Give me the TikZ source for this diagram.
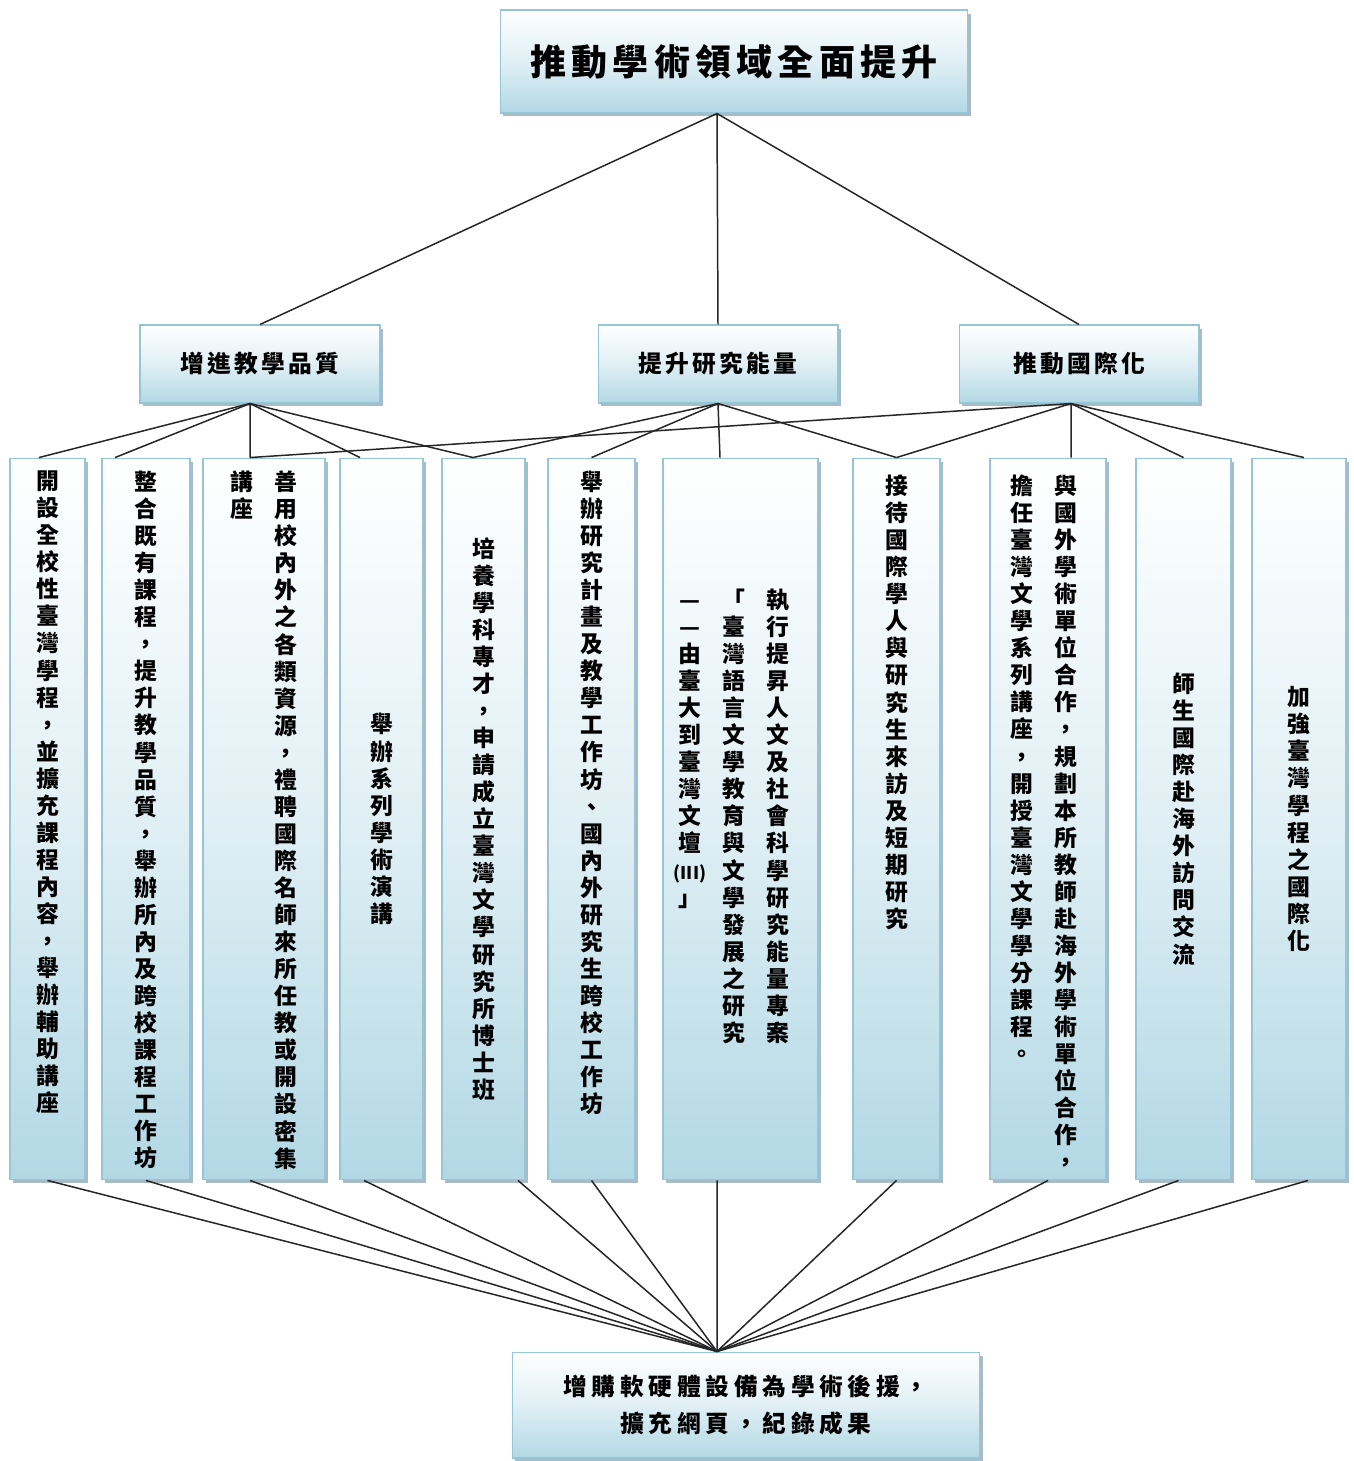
\documentclass[tikz,border=0pt]{standalone}
\usepackage{fontspec}
\setmainfont{Noto Sans CJK TC}
\usetikzlibrary{positioning, shadows}

\definecolor{boxblue}{RGB}{178,216,229}
\definecolor{boxline}{RGB}{150,197,215}
\definecolor{shadowgray}{RGB}{130,160,175}

% vertical text: one character per line, top aligned
\ExplSyntaxOn
\NewDocumentCommand\vtext{m}{\vbox_top:n{\tl_map_inline:nn{#1}{\hbox_to_wd:nn{1.05em}{\hss##1\hss}}}}
\NewDocumentCommand\htext{mm}{\tl_map_inline:nn{#2}{\hbox_to_wd:nn{#1}{\hss##1\hss}}}
\ExplSyntaxOff

\begin{document}
\begin{tikzpicture}[
    x=0.02cm, y=-0.02cm,
    box/.style={rectangle, draw=boxline, line width=0.6pt, inner sep=0pt,
        top color=white, bottom color=boxblue, middle color=boxblue!40,
        drop shadow={shadow xshift=0.06cm, shadow yshift=-0.07cm, fill=shadowgray, opacity=0.7}},
    goalbox/.style={box, minimum width=9.36cm, minimum height=2.06cm, font=\fontsize{20.5}{24}\selectfont\bfseries},
    aimbox/.style={box, minimum width=4.8cm, minimum height=1.56cm, font=\fontsize{13.5}{16}\selectfont\bfseries},
    supportbox/.style={box, minimum width=9.36cm, minimum height=2.12cm, align=center, font=\fontsize{13.5}{21}\selectfont\bfseries},
    colbox/.style={box, minimum height=14.44cm},
    coltext/.style={inner sep=0pt, font=\fontsize{13}{15.4}\selectfont\bfseries},
    link/.style={draw=black!85, line width=0.85pt},
]
\useasboundingbox (0,0) rectangle (1354,1461);

% ========== GOAL ==========
\node[goalbox] (goal) at (734, 61.5) {\htext{23.5pt}{推動學術領域全面提升}};

% ========== AIMS ==========
\node[aimbox] (teach) at (260, 364) {\raisebox{0.08cm}{\htext{15.4pt}{增進教學品質}}};
\node[aimbox] (research) at (718, 364) {\raisebox{0.08cm}{\htext{15.4pt}{提升研究能量}}};
\node[aimbox] (intl) at (1079, 364) {\raisebox{0.08cm}{\htext{15.4pt}{推動國際化}}};

\draw[link] ([xshift=-0.34cm]goal.south) -- (teach.north);
\draw[link] ([xshift=-0.34cm]goal.south) -- (research.north);
\draw[link] ([xshift=-0.34cm]goal.south) -- (intl.north);

% ========== ACTIONS ==========
\node[colbox, minimum width=1.5cm] (course_prog) at (47.5, 819) {};
\node[colbox, minimum width=1.76cm] (course_merge) at (146, 819) {};
\node[colbox, minimum width=2.44cm] (masters) at (264, 819) {};
\node[colbox, minimum width=1.66cm] (lectures) at (381.5, 819) {};
\node[colbox, minimum width=1.66cm] (phd) at (483.5, 819) {};
\node[colbox, minimum width=1.74cm] (workshop) at (591.5, 819) {};
\node[colbox, minimum width=3.1cm] (project) at (740.5, 819) {};
\node[colbox, minimum width=1.74cm] (visitors) at (896.5, 819) {};
\node[colbox, minimum width=2.32cm] (overseas_coop) at (1048, 819) {};
\node[colbox, minimum width=1.9cm] (exchange) at (1183.5, 819) {};
\node[colbox, minimum width=1.88cm] (intl_prog) at (1299, 819) {};

\node[coltext, below=0.26cm of course_prog.north] (course_prog_txt) {\vtext{開設全校性臺灣學程，並擴充課程內容，舉辦輔助講座}};
\node[coltext, below=0.26cm of course_merge.north] (course_merge_txt) {\vtext{整合既有課程，提升教學品質，舉辦所內及跨校課程工作坊}};
\node[coltext, below=0.26cm of masters.north] (masters_txt) {\vtext{講座}\hspace{0.4cm}\vtext{善用校內外之各類資源，禮聘國際名師來所任教或開設密集}};
\node[coltext] (lectures_txt) at (lectures) {\vtext{舉辦系列學術演講}};
\node[coltext] (phd_txt) at (phd) {\vtext{培養學科專才，申請成立臺灣文學研究所博士班}};
\node[coltext, below=0.26cm of workshop.north] (workshop_txt) {\vtext{舉辦研究計畫及教學工作坊、國內外研究生跨校工作坊}};
\node[coltext, below=2.62cm of project.north, xshift=-0.13cm] (project_txt) {\vtext{——由臺大到臺灣文壇{\fontsize{10}{12}\selectfont(III)}」}\hspace{0.4cm}\vtext{「臺灣語言文學教育與文學發展之研究}\hspace{0.4cm}\vtext{執行提昇人文及社會科學研究能量專案}};
\node[coltext, below=0.34cm of visitors.north] (visitors_txt) {\vtext{接待國際學人與研究生來訪及短期研究}};
\node[coltext, below=0.34cm of overseas_coop.north, xshift=-0.09cm] (overseas_coop_txt) {\vtext{擔任臺灣文學系列講座，開授臺灣文學學分課程。}\hspace{0.4cm}\vtext{與國外學術單位合作，規劃本所教師赴海外學術單位合作，}};
\node[coltext] (exchange_txt) at (exchange) {\vtext{師生國際赴海外訪問交流}};
\node[coltext] (intl_prog_txt) at (intl_prog) {\vtext{加強臺灣學程之國際化}};

% aims -> actions
\draw[link] ([xshift=-0.2cm]teach.south) -- ([xshift=-0.17cm]course_prog.north);
\draw[link] ([xshift=-0.2cm]teach.south) -- ([xshift=-0.62cm]course_merge.north);
\draw[link] ([xshift=-0.2cm]teach.south) -- ([xshift=-0.28cm]masters.north);
\draw[link] ([xshift=-0.2cm]teach.south) -- ([xshift=-0.43cm]lectures.north);
\draw[link] ([xshift=-0.2cm]teach.south) -- ([xshift=-0.21cm]phd.north);

\draw[link] (research.south) -- ([xshift=-0.21cm]phd.north);
\draw[link] (research.south) -- (workshop.north);
\draw[link] (research.south) -- ([xshift=-0.41cm]project.north);
\draw[link] (research.south) -- (visitors.north);

\draw[link] ([xshift=-0.16cm]intl.south) -- ([xshift=-0.28cm]masters.north);
\draw[link] ([xshift=-0.16cm]intl.south) -- (visitors.north);
\draw[link] ([xshift=-0.16cm]intl.south) -- ([xshift=0.46cm]overseas_coop.north);
\draw[link] ([xshift=-0.16cm]intl.south) -- (exchange.north);
\draw[link] ([xshift=-0.16cm]intl.south) -- ([xshift=0.1cm]intl_prog.north);

% ========== SUPPORT ==========
\node[supportbox] (support) at (746, 1405) {\htext{16.2pt}{增購軟硬體設備為學術後援，}\\\htext{16.2pt}{擴充網頁，紀錄成果}};

\draw[link] (course_prog.south) -- ([xshift=-0.58cm]support.north);
\draw[link] (course_merge.south) -- ([xshift=-0.58cm]support.north);
\draw[link] ([xshift=-0.28cm]masters.south) -- ([xshift=-0.58cm]support.north);
\draw[link] ([xshift=-0.35cm]lectures.south) -- ([xshift=-0.58cm]support.north);
\draw[link] ([xshift=0.69cm]phd.south) -- ([xshift=-0.58cm]support.north);
\draw[link] (workshop.south) -- ([xshift=-0.58cm]support.north);
\draw[link] ([xshift=-0.47cm]project.south) -- ([xshift=-0.58cm]support.north);
\draw[link] (visitors.south) -- ([xshift=-0.58cm]support.north);
\draw[link] (overseas_coop.south) -- ([xshift=-0.58cm]support.north);
\draw[link] ([xshift=-0.1cm]exchange.south) -- ([xshift=-0.58cm]support.north);
\draw[link] ([xshift=0.18cm]intl_prog.south) -- ([xshift=-0.58cm]support.north);

\end{tikzpicture}
\end{document}
